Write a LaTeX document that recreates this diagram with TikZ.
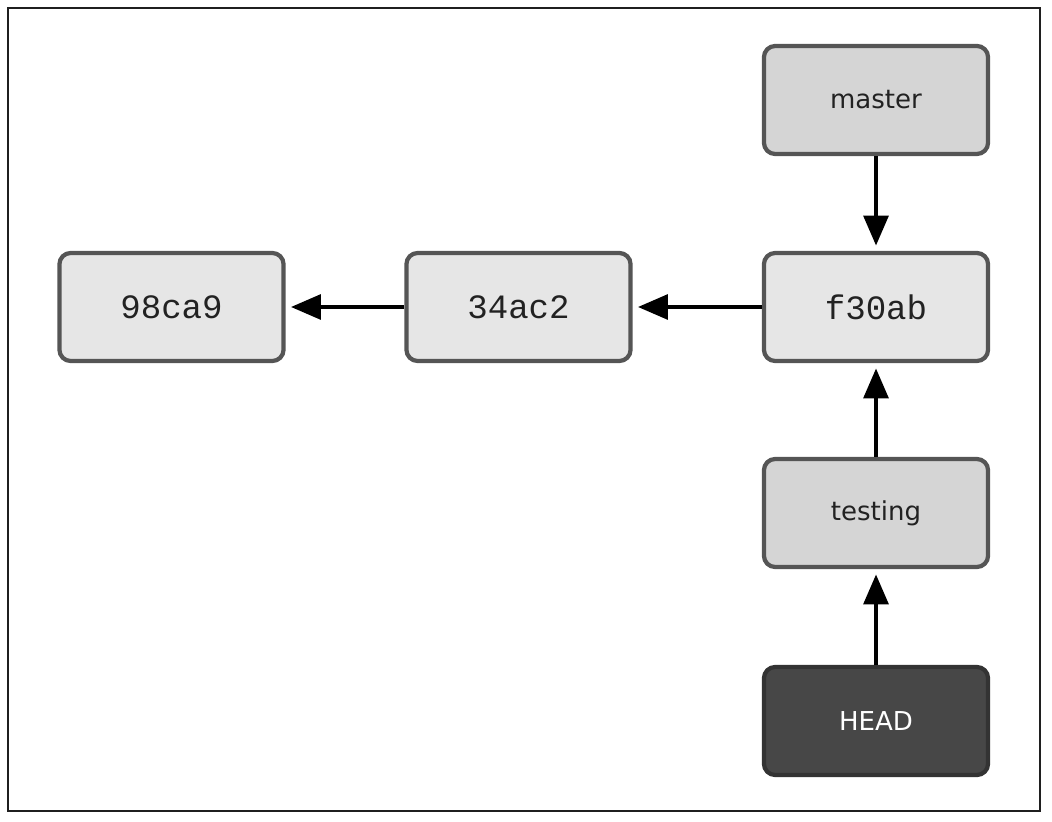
\documentclass[tikz,border=0pt]{standalone}
\usepackage{fontspec}
\setmainfont{DejaVu Sans}
\setmonofont{Liberation Mono}
\usetikzlibrary{arrows.meta}
\definecolor{commitfill}{HTML}{E6E6E6}
\definecolor{branchfill}{HTML}{D5D5D5}
\definecolor{headfill}{HTML}{474747}
\definecolor{boxline}{HTML}{555555}
\definecolor{txt}{HTML}{222222}
\tikzset{
  x=0.01cm, y=-0.01cm,
  basebox/.style={draw=boxline, line width=1.2pt, rounded corners=3.2pt,
    minimum width=2.24cm, minimum height=1.08cm, inner sep=0pt},
  commit/.style={basebox, fill=commitfill, text=txt, font=\ttfamily\fontsize{9.7pt}{11pt}\selectfont},
  branch/.style={basebox, fill=branchfill, text=txt, font=\fontsize{7.4pt}{9pt}\selectfont},
  headbox/.style={basebox, fill=headfill, draw=black!80, text=white, font=\fontsize{7.4pt}{9pt}\selectfont},
  link/.style={line width=1.15pt, -{Triangle[width=7pt,length=8.5pt]}, shorten >=1.5pt}
}
\begin{document}
\begin{tikzpicture}
\useasboundingbox (0,0) rectangle (1052,822);
\draw[line width=0.75pt, draw=black!88] (8,8) rectangle (1040,811);
\node[commit] (c1) at (171.5,307) {98ca9};
\node[commit] (c2) at (518.5,307) {34ac2};
\node[commit] (c3) at (876,307) {f30ab};
\node[branch] (master) at (876,100) {master};
\node[branch] (testing) at (876,513) {testing};
\node[headbox] (head) at (876,721) {HEAD};
\draw[link] (c2) -- (c1);
\draw[link] (c3) -- (c2);
\draw[link] (master) -- (c3);
\draw[link] (testing) -- (c3);
\draw[link] (head) -- (testing);
\end{tikzpicture}
\end{document}
